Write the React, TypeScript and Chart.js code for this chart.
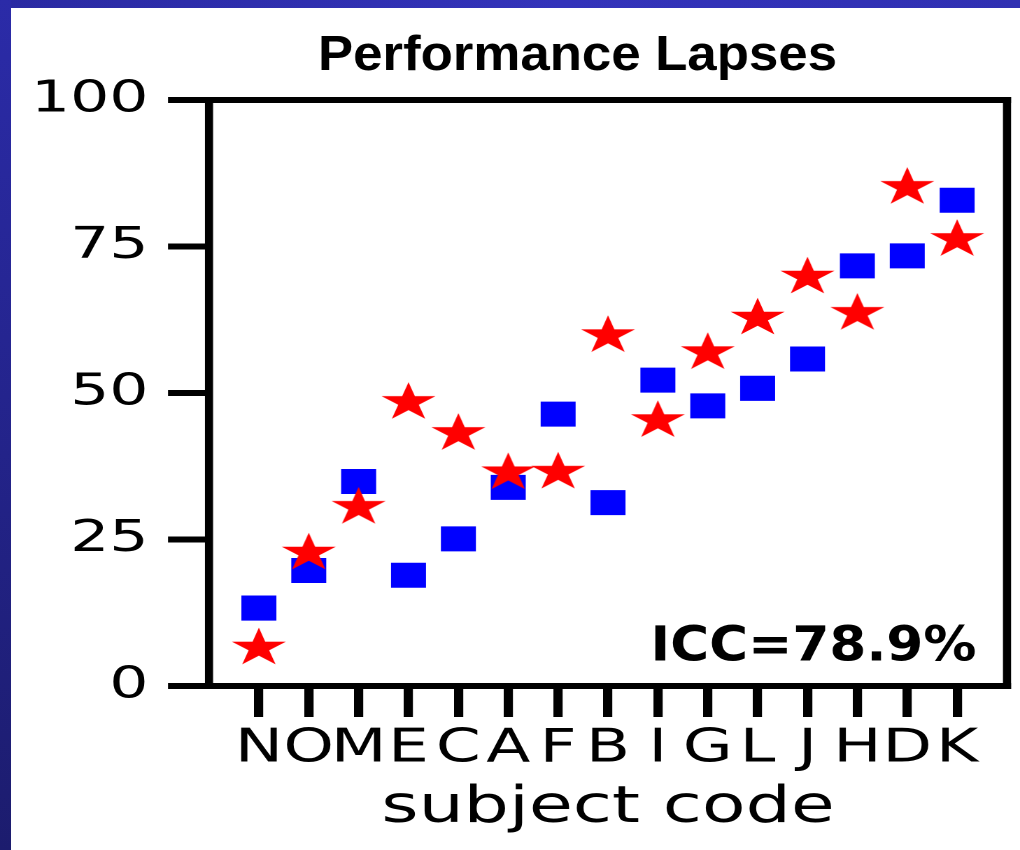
import React, { useEffect, useRef } from 'react';
import { Chart, registerables } from 'chart.js';

Chart.register(...registerables);

// ---- data ----
const subjectCodes = ['N', 'O', 'M', 'E', 'C', 'A', 'F', 'B', 'I', 'G', 'L', 'J', 'H', 'D', 'K'];
const squareValues = [13.3, 19.7, 34.9, 18.9, 25.1, 33.9, 46.4, 31.3, 52.2, 47.8, 50.8, 55.8, 71.7, 73.4, 82.9];
const starValues = [6.5, 22.7, 30.5, 48.4, 43.1, 36.4, 36.5, 59.8, 45.3, 56.9, 62.8, 69.8, 63.6, 85.1, 76.2];
const yTickValues = [0, 25, 50, 75, 100];
const chartTitle = 'Performance Lapses';
const xAxisTitle = 'subject code';
const iccLabel = 'ICC=78.9%';

// ---- layout (canvas is drawn narrow and stretched horizontally, like the original figure) ----
const PAGE_W = 1020;
const PAGE_H = 850;
const CANVAS_W = 729;
const SX = PAGE_W / CANVAS_W;

function makeStarImage(R: number, ratio: number, color: string): Promise<HTMLImageElement> {
  const size = Math.ceil(2 * R + 4);
  const k = 2;
  const c = document.createElement('canvas');
  c.width = size * k;
  c.height = size * k;
  const ctx = c.getContext('2d')!;
  ctx.scale(k, k);
  ctx.translate(size / 2, size / 2);
  ctx.beginPath();
  for (let i = 0; i < 10; i++) {
    const r = i % 2 === 0 ? R : R * ratio;
    const a = -Math.PI / 2 + (i * Math.PI) / 5;
    const px = r * Math.cos(a);
    const py = r * Math.sin(a);
    if (i === 0) ctx.moveTo(px, py);
    else ctx.lineTo(px, py);
  }
  ctx.closePath();
  ctx.fillStyle = color;
  ctx.fill();
  const img = new Image(size, size);
  return new Promise((resolve) => {
    img.onload = () => resolve(img);
    img.onerror = () => resolve(img);
    img.src = c.toDataURL();
  });
}

const framePlugin = {
  id: 'frameBox',
  afterDatasetsDraw(chart: any) {
    const { ctx, chartArea } = chart;
    const { left, top, right, bottom } = chartArea;
    const hw = 6; // horizontal line thickness
    const vw = 5.8; // vertical line thickness (before stretch)
    ctx.save();
    ctx.fillStyle = '#000';
    ctx.fillRect(left - vw / 2, top - hw / 2, right - left + vw, hw);
    ctx.fillRect(left - vw / 2, bottom - hw / 2, right - left + vw, hw);
    ctx.fillRect(left - vw / 2, top - hw / 2, vw, bottom - top + hw);
    ctx.fillRect(right - vw / 2, top - hw / 2, vw, bottom - top + hw);
    ctx.restore();
  },
};

const textPlugin = {
  id: 'extraText',
  afterDraw(chart: any) {
    const { ctx, chartArea } = chart;
    ctx.save();
    ctx.fillStyle = '#000';
    ctx.textBaseline = 'alphabetic';
    ctx.font = 'bold 49px "Liberation Sans", Arial, sans-serif';
    ctx.textAlign = 'center';
    ctx.fillText(chartTitle, 577.5 / SX, 70, 519 / SX);
    ctx.font = 'bold 48px "DejaVu Sans", sans-serif';
    ctx.textAlign = 'right';
    ctx.fillText(iccLabel, chartArea.right - 21.8, chartArea.bottom - 25.5, 326 / SX);
    ctx.restore();
  },
};

export default function App() {
  const canvasRef = useRef<HTMLCanvasElement | null>(null);

  useEffect(() => {
    let chart: Chart | null = null;
    let cancelled = false;
    makeStarImage(20.3, 0.38, '#ff0000').then((starImg) => {
      if (cancelled || !canvasRef.current) return;
      chart = new Chart(canvasRef.current, {
        type: 'scatter',
        data: {
          datasets: [
            {
              label: 'stars',
              data: starValues.map((v, i) => ({ x: i, y: v })),
              pointStyle: starImg as any,
              pointRadius: 20,
              backgroundColor: '#ff0000',
              borderWidth: 0,
              order: 0,
            },
            {
              label: 'squares',
              data: squareValues.map((v, i) => ({ x: i, y: v })),
              pointStyle: 'rect',
              pointRadius: 17.68,
              backgroundColor: '#0000ff',
              borderColor: '#0000ff',
              borderWidth: 0,
              order: 1,
            },
          ],
        },
        options: {
          responsive: false,
          devicePixelRatio: 2,
          animation: false,
          events: [],
          layout: {
            autoPadding: false,
            padding: { left: 0, right: CANVAS_W - 1007 / SX, top: 100, bottom: 0 },
          },
          plugins: {
            legend: { display: false },
            tooltip: { enabled: false },
            title: { display: false },
          },
          scales: {
            x: {
              type: 'linear',
              min: -1,
              max: 15,
              afterBuildTicks: (s: any) => {
                s.ticks = subjectCodes.map((_, i) => ({ value: i }));
              },
              afterFit: (s: any) => {
                s.height = PAGE_H - 686;
                s.paddingLeft = 0;
                s.paddingRight = 0;
              },
              ticks: {
                stepSize: 1,
                autoSkip: false,
                maxRotation: 0,
                minRotation: 0,
                padding: 5,
                color: '#000',
                font: { family: '"DejaVu Sans", sans-serif', size: 46 },
                callback: (v: any) => subjectCodes[Number(v)] ?? '',
              },
              grid: {
                drawOnChartArea: false,
                drawTicks: true,
                tickLength: 31,
                tickWidth: 6.6,
                lineWidth: 6.6,
                color: '#000',
              },
              border: { display: false },
              title: {
                display: true,
                text: xAxisTitle,
                color: '#000',
                font: { family: '"DejaVu Sans", sans-serif', size: 51, lineHeight: 1 },
                padding: { top: 0, bottom: 16 },
              },
            },
            y: {
              type: 'linear',
              min: 0,
              max: 100,
              afterBuildTicks: (s: any) => {
                s.ticks = yTickValues.map((v) => ({ value: v }));
              },
              afterFit: (s: any) => {
                s.width = 209 / SX;
                s.paddingTop = 0;
                s.paddingBottom = 0;
              },
              ticks: {
                padding: 14,
                color: '#000',
                font: { family: '"DejaVu Sans", sans-serif', size: 44 },
              },
              grid: {
                drawOnChartArea: false,
                drawTicks: true,
                tickLength: 29.3,
                tickWidth: 6,
                lineWidth: 6,
                color: '#000',
              },
              border: { display: false },
            },
          },
        },
        plugins: [framePlugin, textPlugin],
      });
    });
    return () => {
      cancelled = true;
      if (chart) chart.destroy();
    };
  }, []);

  return (
    <div
      style={{
        position: 'fixed',
        left: 0,
        top: 0,
        width: PAGE_W,
        height: PAGE_H,
        background: '#ffffff',
        overflow: 'hidden',
      }}
    >
      <div
        style={{
          position: 'absolute',
          left: 0,
          top: 0,
          width: PAGE_W,
          height: 8,
          background: 'linear-gradient(90deg, #2a2aa2 0%, #3333ba 55%, #3030b2 100%)',
        }}
      />
      <div
        style={{
          position: 'absolute',
          left: 0,
          top: 0,
          width: 11,
          height: PAGE_H,
          background: 'linear-gradient(180deg, #2b2ba8 0%, #1c1c6e 100%)',
        }}
      />
      <canvas
        ref={canvasRef}
        width={CANVAS_W}
        height={PAGE_H}
        style={{ position: 'absolute', left: 0, top: 0, width: PAGE_W, height: PAGE_H }}
      />
    </div>
  );
}
